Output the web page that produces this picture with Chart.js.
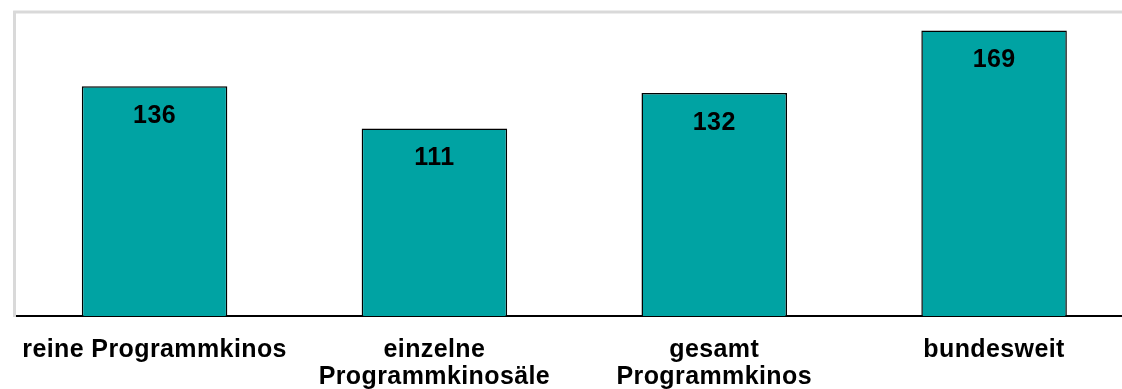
<!DOCTYPE html>
<html>
<head>
<meta charset="utf-8">
<script src="https://cdn.jsdelivr.net/npm/chart.js@4"></script>
<style>
  body { margin: 0; overflow: hidden; background: #fff; }
  #wrap { width: 1136px; height: 389px; }
</style>
</head>
<body>
<div id="wrap"><canvas id="chart"></canvas></div>
<script>
// values
const categories = [
  "reine Programmkinos",
  ["einzelne", "Programmkinosäle"],
  ["gesamt", "Programmkinos"],
  "bundesweit"
];
const values = [136, 111, 132, 169];

const font = { family: "'Liberation Sans', Arial, sans-serif", size: 25, weight: "bold" };

// slightly open lettering like the original
const spacing = {
  id: "spacing",
  beforeUpdate(chart) { chart.ctx.letterSpacing = "0.4px"; },
  beforeDraw(chart) { chart.ctx.letterSpacing = "0.4px"; }
};

// light grey frame line on top of the plot
const frame = {
  id: "frame",
  beforeDatasetsDraw(chart) {
    const { ctx, chartArea } = chart;
    ctx.save();
    ctx.strokeStyle = "#d9d9d9";
    ctx.lineWidth = 3;
    ctx.beginPath();
    ctx.moveTo(chartArea.left - 1.5, chartArea.top);
    ctx.lineTo(chartArea.right, chartArea.top);
    ctx.stroke();
    ctx.restore();
  }
};

// value inside each bar, near its top
const valueLabels = {
  id: "valueLabels",
  afterDatasetsDraw(chart) {
    const { ctx } = chart;
    const meta = chart.getDatasetMeta(0);
    ctx.save();
    ctx.font = "bold 25px 'Liberation Sans', Arial, sans-serif";
    ctx.letterSpacing = "0.4px";
    ctx.fillStyle = "#000";
    ctx.textAlign = "center";
    ctx.textBaseline = "middle";
    meta.data.forEach((bar, i) => {
      ctx.fillText(String(values[i]), bar.x, bar.y + 30);
    });
    ctx.restore();
  }
};

new Chart(document.getElementById("chart"), {
  type: "bar",
  data: {
    labels: categories,
    datasets: [{
      data: values,
      backgroundColor: "#00a3a3",
      borderColor: "#000",
      borderWidth: 1.5,
      barPercentage: 0.52,
      categoryPercentage: 1
    }]
  },
  options: {
    responsive: true,
    maintainAspectRatio: false,
    animation: false,
    layout: { padding: { left: 10, top: 12, right: 2, bottom: -23 } },
    plugins: { legend: { display: false }, tooltip: { enabled: false } },
    scales: {
      x: {
        grid: { display: false, drawTicks: false },
        border: { color: "#000", width: 2 },
        ticks: {
          color: "#000",
          font: { ...font, lineHeight: 1.08 },
          padding: 21,
          maxRotation: 0,
          autoSkip: false
        }
      },
      y: {
        min: 0,
        max: 180,
        grid: { display: false, drawTicks: false },
        border: { color: "#d9d9d9", width: 3 },
        ticks: { display: false }
      }
    }
  },
  plugins: [spacing, frame, valueLabels]
});
</script>
</body>
</html>
